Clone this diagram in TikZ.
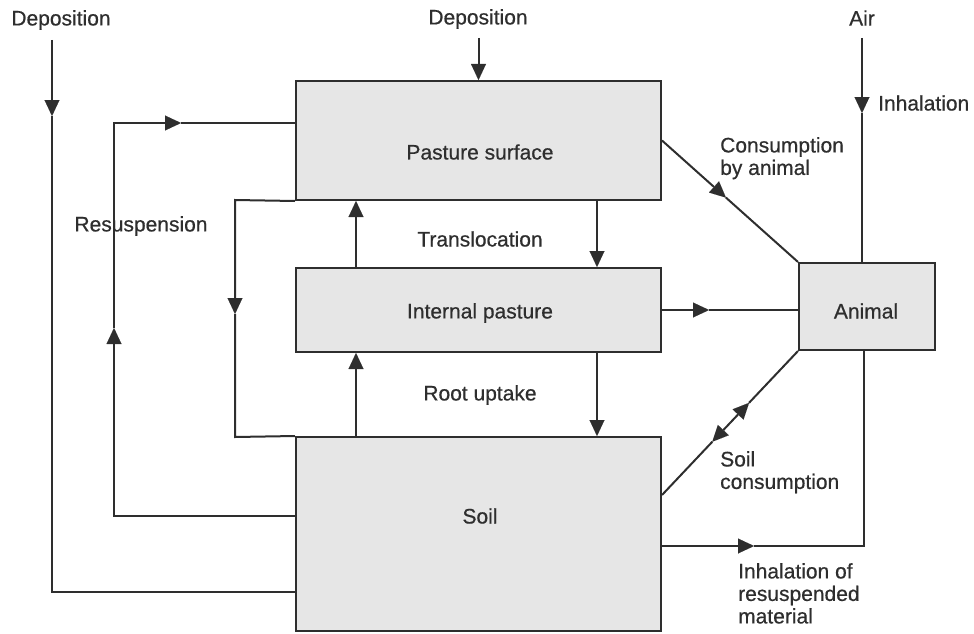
\documentclass[tikz,border=0pt]{standalone}
\usepackage{fontspec}
\setmainfont{Liberation Sans}
\newfontfamily\lblfont{Liberation Sans}[BoldFont={Liberation Sans}, BoldFeatures={FakeBold=0.6}]
\usetikzlibrary{arrows.meta,calc}

\definecolor{ink}{HTML}{2E2E2E}
\definecolor{boxfill}{HTML}{E6E6E6}

\tikzset{
  tri/.tip={Triangle[length=16pt,width=15pt,line width=0.01pt]},
  wire/.style={draw=ink, color=ink, line width=2pt, line join=miter},
  flow/.style={wire, -tri},
  box/.style={wire, fill=boxfill, rectangle, inner sep=0pt},
  lbl/.style={text=ink, inner sep=0pt, font=\lblfont\bfseries\fontsize{21}{22.5}\selectfont},
}

\begin{document}
\begin{tikzpicture}[x=1pt, y=-1pt]
\useasboundingbox (0,0) rectangle (974,634);

% compartments
\node[box, minimum width=365pt, minimum height=119pt] (ps) at (478.5,140.5) {};
\node[box, minimum width=365pt, minimum height=84pt] (ip) at (478.5,310) {};
\node[box, minimum width=365pt, minimum height=194pt] (soil) at (478.5,534) {};
\node[box, minimum width=136pt, minimum height=87pt] (an) at (867,306.5) {};

\node[lbl] (psT) at (480,152) {Pasture surface};
\node[lbl] (ipT) at (480,313) {Internal pasture};
\node[lbl] (soilT) at (480,516) {Soil};
\node[lbl] (anT) at (866,311) {Animal};

% free ends, corners and arrow points of the flow paths
\coordinate (dlT) at (52,40);
\coordinate (dlA) at (52,116);
\coordinate (dlB) at (52,592);
\coordinate (dtT) at (478.5,38);
\coordinate (airT) at (862,38);
\coordinate (airA) at (862,113);
\coordinate (rsS) at ($(soil.west)+(0,-18)$);
\coordinate (rsC) at (114,516);
\coordinate (rsA) at (114,328);
\coordinate (rsB) at (114,123);
\coordinate (rsR) at (181,123);
\coordinate (lpT) at (235,200);
\coordinate (lpA) at (235,314);
\coordinate (lp) at (235,437);
\coordinate (ipA) at ($(ip.east)+(47,0)$);
\coordinate (cnA) at ($(ps.east)!0.47!(an.north west)$);
\coordinate (sc0) at ($(soil.east)+(0,-39)$);
\coordinate (scU) at ($(sc0)!0.64!(an.south west)$);
\coordinate (scM) at ($(sc0)!0.505!(an.south west)$);
\coordinate (scD) at ($(sc0)!0.37!(an.south west)$);
\coordinate (ir0) at ($(soil.east)+(0,12)$);
\coordinate (irA) at ($(ir0)+(92,0)$);
\coordinate (irC) at (864,546);

% deposition onto the soil
\draw[flow] (dlT) -- (dlA);
\draw[wire] (dlA) -- (dlB) -- (dlB -| soil.west);
% deposition onto the pasture surface
\draw[flow] (dtT) -- (ps.north);
% resuspension from soil to pasture surface
\draw[wire] (rsS) -- (rsC) -- ($(rsA)+(0,8)$);
\draw[flow] ($(rsA)+(0,8)$) -- (rsA);
\draw[wire] (rsA) -- (rsB) -- ($(rsR)+(-8,0)$);
\draw[flow] ($(rsR)+(-8,0)$) -- (rsR);
\draw[wire] (rsR) -- (rsB -| ps.west);
% weathering loss from pasture surface to soil
\draw[wire] (ps.south west) -- (lpT) -- ($(lpA)+(0,-8)$);
\draw[flow] ($(lpA)+(0,-8)$) -- (lpA);
\draw[wire] (lpA) -- (lp) -- (soil.north west);
% translocation
\draw[flow] ($(ip.north west)+(61,0)$) -- ($(ps.south west)+(61,0)$);
\draw[flow] ($(ps.south west)+(302,0)$) -- ($(ip.north west)+(302,0)$);
% root uptake
\draw[flow] ($(soil.north west)+(61,0)$) -- ($(ip.south west)+(61,0)$);
\draw[flow] ($(ip.south west)+(302,0)$) -- ($(soil.north west)+(302,0)$);
% transfers to the animal
\draw[flow] (ip.east) -- (ipA);
\draw[wire] (ipA) -- (ip.east -| an.west);
\draw[flow] (ps.east) -- (cnA);
\draw[wire] (cnA) -- (an.north west);
\draw[flow] (airT) -- (airA);
\draw[wire] (airA) -- (airT |- an.north);
% soil consumption, both ways
\draw[wire] (sc0) -- (scD);
\draw[flow] (scM) -- (scD);
\draw[flow] (scM) -- (scU);
\draw[wire] (scU) -- (an.south west);
% inhalation of resuspended soil
\draw[flow] (ir0) -- (irA);
\draw[wire] (irA) -- (irC) -- (irC |- an.south);

% flow labels
\node[lbl] (depL) at (61,20) {Deposition};
\node[lbl] (depT) at (478,19) {Deposition};
\node[lbl] (air) at (862,18) {Air};
\node[lbl, anchor=west] (inh) at (878,103) {Inhalation};
\node[lbl, anchor=north west, align=left] (cons) at (720,137) {Consumption\\by animal};
\node[lbl] (resus) at (141,226) {Resuspension};
\node[lbl] (transl) at (480,239) {Translocation};
\node[lbl] (root) at (480,395) {Root uptake};
\node[lbl, anchor=north west, align=left] (scons) at (720,451) {Soil\\consumption};
\node[lbl, anchor=north west, align=left] (inhres) at (738,563) {Inhalation of\\resuspended\\material};
\end{tikzpicture}
\end{document}
